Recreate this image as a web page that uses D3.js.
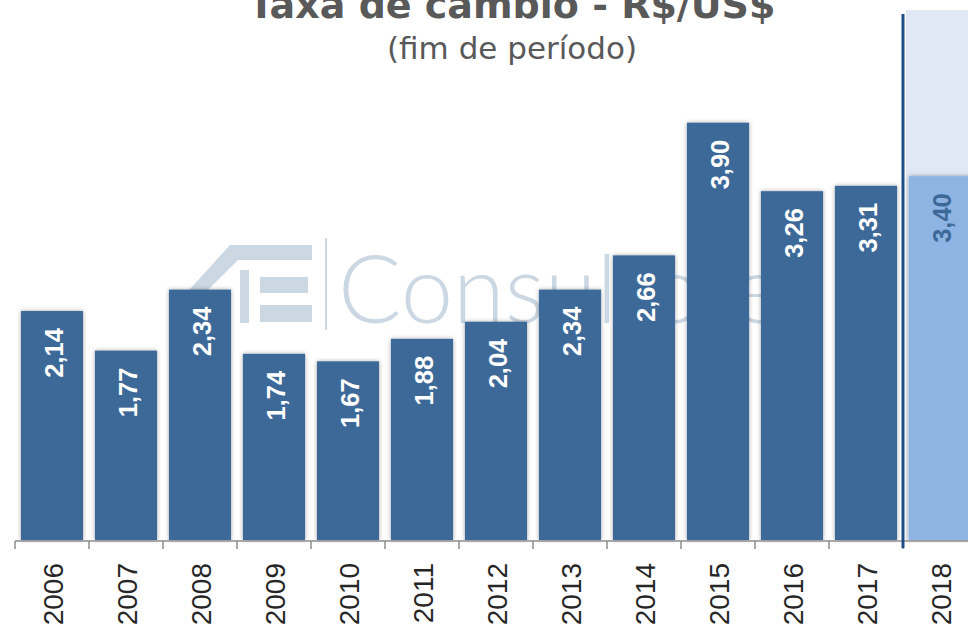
<!DOCTYPE html>
<html lang="pt">
<head>
  <meta charset="UTF-8">
  <title>Taxa de câmbio</title>
  <script src="https://cdn.jsdelivr.net/npm/d3@7"></script>
  <style>
    body { margin: 0; background: #fff; }
    svg { display: block; }
  </style>
</head>
<body>
  <div id="chart"></div>

  <script>
    const years = ['2006', '2007', '2008', '2009', '2010', '2011', '2012', '2013', '2014', '2015', '2016', '2017', '2018'];
    const values = [2.14, 1.77, 2.34, 1.74, 1.67, 1.88, 2.04, 2.34, 2.66, 3.90, 3.26, 3.31, 3.40];
    const labels = ['2,14', '1,77', '2,34', '1,74', '1,67', '1,88', '2,04', '2,34', '2,66', '3,90', '3,26', '3,31', '3,40'];
    const forecastYear = '2018';

    const width = 968,
      height = 628,
      baseY = 540;

    const svg = d3.select('#chart')
      .append('svg')
        .attr('width', width)
        .attr('height', height);

    const x = d3.scaleBand()
      .domain(years)
      .range([15, 977])
      .paddingInner(0.16)
      .paddingOuter(0.08);

    const y = d3.scaleLinear()
      .domain([0, 5])
      .range([baseY, 5]);

    const gap = (x.step() - x.bandwidth()) / 2;
    const edge = d => x(d) - gap;   // left boundary of a category

    // shadow around bars
    const defs = svg.append('defs');
    defs.append('filter')
        .attr('id', 'shadow')
        .attr('x', '-20%').attr('y', '-20%')
        .attr('width', '140%').attr('height', '140%')
      .append('feDropShadow')
        .attr('dx', 0).attr('dy', 0)
        .attr('stdDeviation', 2)
        .attr('flood-color', '#000')
        .attr('flood-opacity', 0.35);

    // forecast panel
    svg.append('rect')
      .attr('x', edge(forecastYear) + 3)
      .attr('y', 10)
      .attr('width', width - edge(forecastYear))
      .attr('height', baseY - 10)
      .attr('fill', '#dfe8f4');

    // watermark (AE Consultores)
    const wm = svg.append('g').attr('fill', '#cbd7e2');
    wm.append('path')
      .attr('d', 'M180,300 L230,245 L312,245 L312,260 L238,260 L198,300 Z');
    wm.append('rect').attr('x', 240).attr('y', 270).attr('width', 9).attr('height', 53);
    wm.append('rect').attr('x', 260).attr('y', 277).attr('width', 48).attr('height', 16);
    wm.append('rect').attr('x', 260).attr('y', 305).attr('width', 52).attr('height', 17);
    wm.append('rect').attr('x', 325).attr('y', 238).attr('width', 2).attr('height', 92);
    wm.append('text')
      .attr('x', 338)
      .attr('y', 323)
      .style('font-family', 'Lato, "DejaVu Sans", sans-serif')
      .style('font-weight', 300)
      .style('font-size', '94px')
      .text('Consultores');

    // bars
    svg.append('g')
      .selectAll('rect')
      .data(years)
      .join('rect')
        .attr('x', d => x(d))
        .attr('y', (d, i) => y(values[i]))
        .attr('width', x.bandwidth())
        .attr('height', (d, i) => baseY - y(values[i]))
        .attr('fill', d => d === forecastYear ? '#8eb4e3' : '#3d6999')
        .attr('filter', 'url(#shadow)');

    // value labels
    svg.append('g')
      .selectAll('text')
      .data(years)
      .join('text')
        .attr('transform', (d, i) => `translate(${x(d) + x.bandwidth() / 2},${y(values[i]) + 17}) rotate(-90)`)
        .attr('text-anchor', 'end')
        .attr('dy', '0.45em')
        .style('font-family', '"Liberation Sans", Arial, sans-serif')
        .style('font-weight', 'bold')
        .style('font-size', '25.5px')
        .attr('fill', d => d === forecastYear ? '#3d6999' : '#fff')
        .text((d, i) => labels[i]);

    // x axis
    const axis = svg.append('g');
    axis.append('line')
      .attr('x1', 15).attr('x2', width)
      .attr('y1', baseY + 1).attr('y2', baseY + 1)
      .attr('stroke', '#8c8c8c')
      .attr('stroke-width', 1.5);
    axis.selectAll('.tick')
      .data(years)
      .join('line')
        .attr('class', 'tick')
        .attr('x1', d => edge(d)).attr('x2', d => edge(d))
        .attr('y1', baseY + 1).attr('y2', baseY + 9)
        .attr('stroke', '#8c8c8c')
        .attr('stroke-width', 1.5);
    axis.selectAll('.year')
      .data(years)
      .join('text')
        .attr('class', 'year')
        .attr('transform', d => `translate(${x(d) + x.bandwidth() / 2},${baseY + 23}) rotate(-90)`)
        .attr('text-anchor', 'end')
        .attr('dy', '0.38em')
        .style('font-family', '"Liberation Sans", Arial, sans-serif')
        .style('font-size', '28px')
        .attr('fill', '#262626')
        .text(d => d);

    // divider before the forecast year
    svg.append('line')
      .attr('x1', edge(forecastYear)).attr('x2', edge(forecastYear))
      .attr('y1', 14).attr('y2', baseY + 8)
      .attr('stroke', '#1f4e85')
      .attr('stroke-width', 3);

    // titles (the main title sits partly above the top edge, as in the original)
    svg.append('text')
      .attr('x', 512)
      .attr('y', 18)
      .attr('text-anchor', 'middle')
      .style('font-family', '"DejaVu Sans", sans-serif')
      .style('font-weight', 'bold')
      .style('font-size', '38px')
      .attr('fill', '#595959')
      .text('Taxa de câmbio - R$/US$');

    svg.append('text')
      .attr('x', 512)
      .attr('y', 59)
      .attr('text-anchor', 'middle')
      .style('font-family', '"DejaVu Sans", sans-serif')
      .style('font-size', '31px')
      .attr('fill', '#595959')
      .text('(fim de período)');
  </script>
</body>
</html>
